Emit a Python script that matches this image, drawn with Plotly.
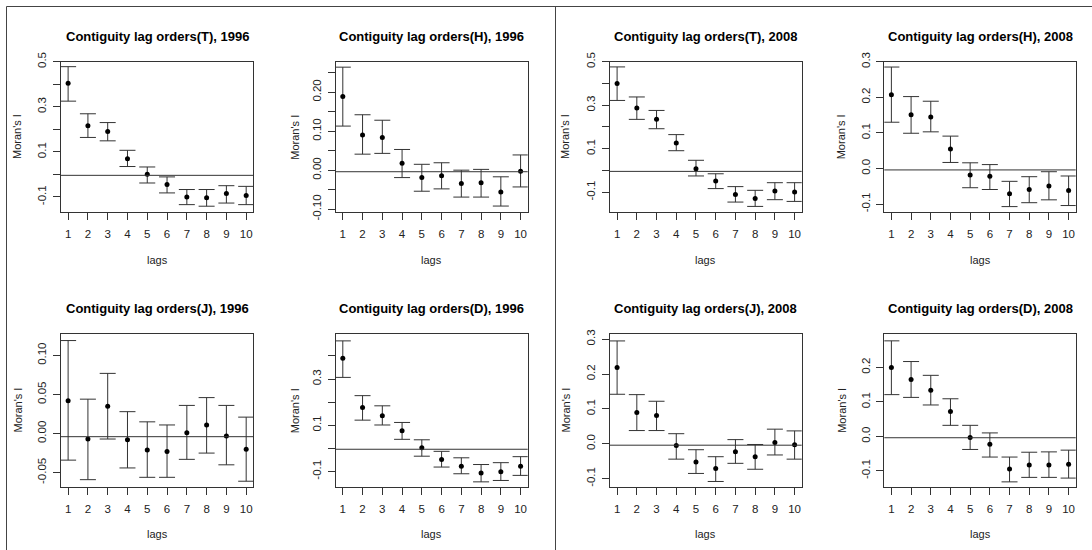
import plotly.graph_objects as go

# ---------------- data ----------------
lags = [1, 2, 3, 4, 5, 6, 7, 8, 9, 10]
expected_I = -0.004

moran_T_1996 = [0.404, 0.216, 0.190, 0.070, 0.001, -0.045, -0.100, -0.103, -0.085, -0.093]
upper_T_1996 = [0.478, 0.269, 0.230, 0.107, 0.033, -0.011, -0.067, -0.067, -0.050, -0.053]
lower_T_1996 = [0.325, 0.164, 0.149, 0.035, -0.038, -0.082, -0.134, -0.141, -0.127, -0.134]

moran_H_1996 = [0.189, 0.090, 0.084, 0.018, -0.019, -0.014, -0.034, -0.032, -0.056, -0.003]
upper_H_1996 = [0.264, 0.142, 0.128, 0.053, 0.015, 0.019, 0.000, 0.002, -0.017, 0.039]
lower_H_1996 = [0.113, 0.041, 0.043, -0.019, -0.054, -0.048, -0.069, -0.069, -0.092, -0.043]

moran_T_2008 = [0.400, 0.287, 0.235, 0.126, 0.008, -0.048, -0.110, -0.129, -0.094, -0.099]
upper_T_2008 = [0.476, 0.338, 0.276, 0.165, 0.047, -0.015, -0.074, -0.091, -0.056, -0.056]
lower_T_2008 = [0.322, 0.235, 0.192, 0.091, -0.025, -0.083, -0.145, -0.165, -0.134, -0.142]

moran_H_2008 = [0.207, 0.151, 0.145, 0.055, -0.018, -0.022, -0.071, -0.059, -0.049, -0.062]
upper_H_2008 = [0.285, 0.202, 0.189, 0.091, 0.016, 0.011, -0.036, -0.023, -0.009, -0.021]
lower_H_2008 = [0.130, 0.099, 0.103, 0.017, -0.054, -0.059, -0.107, -0.096, -0.088, -0.104]

moran_J_1996 = [0.042, -0.007, 0.035, -0.008, -0.021, -0.023, 0.001, 0.011, -0.003, -0.020]
upper_J_1996 = [0.119, 0.044, 0.077, 0.028, 0.015, 0.011, 0.036, 0.046, 0.036, 0.021]
lower_J_1996 = [-0.034, -0.059, -0.007, -0.044, -0.056, -0.056, -0.033, -0.025, -0.040, -0.061]

moran_D_1996 = [0.390, 0.177, 0.141, 0.076, 0.003, -0.048, -0.077, -0.107, -0.101, -0.077]
upper_D_1996 = [0.465, 0.228, 0.184, 0.112, 0.037, -0.013, -0.041, -0.070, -0.062, -0.036]
lower_D_1996 = [0.307, 0.122, 0.101, 0.039, -0.034, -0.081, -0.110, -0.145, -0.139, -0.117]

moran_J_2008 = [0.219, 0.090, 0.081, -0.005, -0.052, -0.071, -0.023, -0.037, 0.004, -0.003]
upper_J_2008 = [0.295, 0.141, 0.122, 0.029, -0.017, -0.037, 0.012, -0.002, 0.042, 0.037]
lower_J_2008 = [0.142, 0.038, 0.038, -0.044, -0.085, -0.108, -0.056, -0.073, -0.032, -0.044]

moran_D_2008 = [0.200, 0.165, 0.134, 0.072, -0.003, -0.023, -0.095, -0.083, -0.083, -0.081]
upper_D_2008 = [0.277, 0.217, 0.177, 0.109, 0.032, 0.010, -0.060, -0.046, -0.045, -0.040]
lower_D_2008 = [0.121, 0.113, 0.091, 0.032, -0.038, -0.060, -0.132, -0.119, -0.119, -0.121]

titles = [
    "Contiguity lag orders(T), 1996", "Contiguity lag orders(H), 1996",
    "Contiguity lag orders(T), 2008", "Contiguity lag orders(H), 2008",
    "Contiguity lag orders(J), 1996", "Contiguity lag orders(D), 1996",
    "Contiguity lag orders(J), 2008", "Contiguity lag orders(D), 2008",
]

tick_vals = [
    [-0.1, 0.0, 0.1, 0.2, 0.3, 0.4, 0.5],
    [-0.10, -0.05, 0.00, 0.05, 0.10, 0.15, 0.20, 0.25],
    [-0.1, 0.0, 0.1, 0.2, 0.3, 0.4, 0.5],
    [-0.1, 0.0, 0.1, 0.2, 0.3],
    [-0.05, 0.00, 0.05, 0.10],
    [-0.1, 0.0, 0.1, 0.2, 0.3, 0.4],
    [-0.1, 0.0, 0.1, 0.2, 0.3],
    [-0.1, 0.0, 0.1, 0.2],
]
tick_text = [
    ["-0.1", "", "0.1", "", "0.3", "", "0.5"],
    ["-0.10", "", "0.00", "", "0.10", "", "0.20", ""],
    ["-0.1", "", "0.1", "", "0.3", "", "0.5"],
    ["-0.1", "0.0", "0.1", "0.2", "0.3"],
    ["-0.05", "0.00", "0.05", "0.10"],
    ["-0.1", "", "0.1", "", "0.3", ""],
    ["-0.1", "0.0", "0.1", "0.2", "0.3"],
    ["-0.1", "0.0", "0.1", "0.2"],
]
y_ranges = [
    [-0.168, 0.5], [-0.108, 0.278], [-0.192, 0.5], [-0.123, 0.3],
    [-0.068, 0.127], [-0.166, 0.4935], [-0.123, 0.314], [-0.146, 0.296],
]

series = [
    (moran_T_1996, upper_T_1996, lower_T_1996),
    (moran_H_1996, upper_H_1996, lower_H_1996),
    (moran_T_2008, upper_T_2008, lower_T_2008),
    (moran_H_2008, upper_H_2008, lower_H_2008),
    (moran_J_1996, upper_J_1996, lower_J_1996),
    (moran_D_1996, upper_D_1996, lower_D_1996),
    (moran_J_2008, upper_J_2008, lower_J_2008),
    (moran_D_2008, upper_D_2008, lower_D_2008),
]

# ---------------- layout geometry (pixels) ----------------
W, H = 1092, 550
col_px = [(61, 253.3), (335.7, 527.7), (610, 801.7), (884.3, 1075.7)]
row_px = [(61.7, 212.3), (334.3, 486.7)]
title_py = [36.7, 308.3]
xlab_py = [259.5, 534]
ylab_off = [44, 41, 45, 43]

FONT = "Liberation Sans, Arial, sans-serif"
INK = "#222"
LINE = "#333"

fig = go.Figure()
layout = dict(
    template="none",
    width=W, height=H,
    margin=dict(l=0, r=0, t=0, b=0, pad=0, autoexpand=False),
    paper_bgcolor="white", plot_bgcolor="white", showlegend=False,
    font=dict(family=FONT, size=11, color=INK),
)
annotations = []
shapes = []

for i in range(8):
    r, c = divmod(i, 4)
    n = i + 1
    xa = "x" if n == 1 else f"x{n}"
    ya = "y" if n == 1 else f"y{n}"
    xk = "xaxis" if n == 1 else f"xaxis{n}"
    yk = "yaxis" if n == 1 else f"yaxis{n}"
    x0, x1 = col_px[c]
    y0, y1 = row_px[r]
    mid, up, lo = series[i]
    fig.add_trace(go.Scatter(
        x=lags, y=mid, mode="markers", xaxis=xa, yaxis=ya,
        marker=dict(color="black", size=5, line=dict(width=0)),
        error_y=dict(type="data", symmetric=False,
                     array=[u - m for u, m in zip(up, mid)],
                     arrayminus=[m - l for m, l in zip(mid, lo)],
                     color=LINE, thickness=1, width=8),
    ))
    layout[xk] = dict(
        domain=[x0 / W, x1 / W], anchor=ya, range=[0.64, 10.36],
        tickvals=lags, ticktext=[str(v) for v in lags],
        ticks="outside", ticklen=7, tickcolor=LINE, tickwidth=1,
        showline=True, mirror=True, linecolor=LINE, linewidth=1,
        showgrid=False, zeroline=False, automargin=False,
        ticklabelstandoff=4,
        tickfont=dict(size=11.5, color=INK, family=FONT),
    )
    layout[yk] = dict(
        domain=[1 - y1 / H, 1 - y0 / H], anchor=xa, range=y_ranges[i],
        tickvals=tick_vals[i], ticktext=tick_text[i], tickangle=-90,
        ticks="outside", ticklen=7, tickcolor=LINE, tickwidth=1,
        showline=True, mirror=True, linecolor=LINE, linewidth=1,
        showgrid=False, zeroline=False, automargin=False,
        ticklabelstandoff=2,
        tickfont=dict(size=11.5, color=INK, family=FONT),
    )
    shapes.append(dict(type="line", xref=f"{xa} domain", yref=ya,
                       x0=0, x1=1, y0=expected_I, y1=expected_I,
                       line=dict(color=LINE, width=1)))
    annotations.append(dict(text=f"<b>{titles[i]}</b>", xref="paper", yref="paper",
                            x=(x0 + x1) / 2 / W, y=1 - title_py[r] / H,
                            showarrow=False, xanchor="center", yanchor="middle",
                            font=dict(size=13, color="black", family=FONT)))
    annotations.append(dict(text="lags", xref="paper", yref="paper",
                            x=(x0 + x1) / 2 / W, y=1 - xlab_py[r] / H,
                            showarrow=False, xanchor="center", yanchor="middle",
                            font=dict(size=11, color=INK, family=FONT)))
    annotations.append(dict(text="Moran's I", xref="paper", yref="paper",
                            x=(x0 - ylab_off[c]) / W, y=1 - (y0 + y1) / 2 / H,
                            textangle=-90, showarrow=False,
                            xanchor="center", yanchor="middle",
                            font=dict(size=11, color=INK, family=FONT)))

# outer frame and divider
frame = "#444"
shapes.append(dict(type="line", xref="paper", yref="paper",
                   x0=6.5 / W, x1=1, y0=1 - 6.5 / H, y1=1 - 6.5 / H,
                   line=dict(color=frame, width=1)))
shapes.append(dict(type="line", xref="paper", yref="paper",
                   x0=6.5 / W, x1=6.5 / W, y0=0, y1=1 - 6.5 / H,
                   line=dict(color=frame, width=1)))
shapes.append(dict(type="line", xref="paper", yref="paper",
                   x0=555.5 / W, x1=555.5 / W, y0=0, y1=1 - 6.5 / H,
                   line=dict(color=frame, width=1)))

layout["annotations"] = annotations
layout["shapes"] = shapes
fig.update_layout(**layout)
fig.write_html(
    "out.html",
    config={"displayModeBar": False},
    post_script="document.body.style.margin='0';document.body.style.padding='0';"
                "document.body.style.overflow='hidden';",
)
